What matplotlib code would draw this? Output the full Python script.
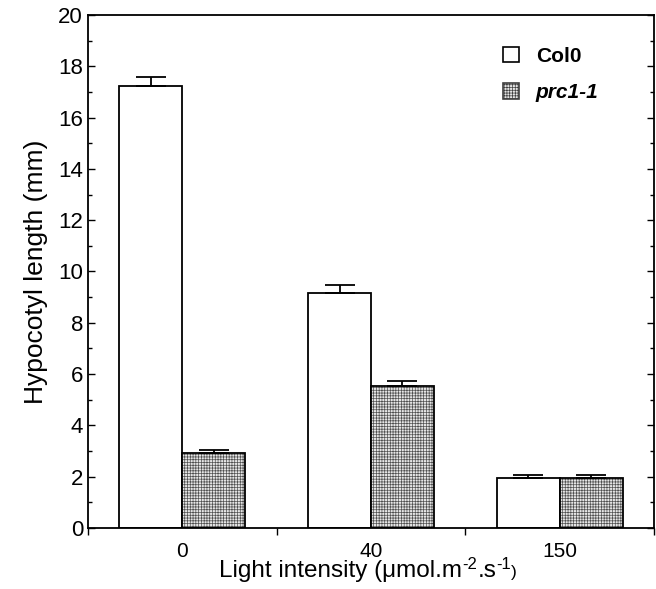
import numpy as np
import matplotlib
matplotlib.use("Agg")
import matplotlib.pyplot as plt
from matplotlib.patches import Patch
from matplotlib.ticker import MultipleLocator, FixedLocator

plt.rcParams['font.family'] = ['Liberation Sans', 'DejaVu Sans']
plt.rcParams['hatch.linewidth'] = 0.5

# data
intensities = ['0', '40', '150']
col0 = [17.25, 9.15, 1.94]
col0_err = [0.33, 0.34, 0.13]
prc = [2.94, 5.55, 1.94]
prc_err = [0.11, 0.18, 0.13]

W, H = 656, 589
fig = plt.figure(figsize=(W / 100, H / 100), dpi=100)
ax = fig.add_axes([0.134, 0.1036, 0.863, 0.871])

x = np.arange(len(intensities))
w = 0.333

ax.bar(x - w/2, col0, w, color='white', edgecolor='black', linewidth=1.3)
ax.errorbar(x - w/2, col0, yerr=[np.zeros(3), col0_err], fmt='none',
            ecolor='black', elinewidth=1.3, capsize=11, capthick=1.3)

# hatched fill in gray, outline in black
ax.bar(x + w/2, prc, w, color='#e6e6e6', edgecolor='#505050', linewidth=0,
       hatch='++++++')
ax.bar(x + w/2, prc, w, fill=False, edgecolor='black', linewidth=1.3)
ax.errorbar(x + w/2, prc, yerr=[np.zeros(3), prc_err], fmt='none',
            ecolor='black', elinewidth=1.3, capsize=11, capthick=1.3)

ax.set_xlim(-0.5, 2.5)
ax.set_ylim(0, 20)
ax.yaxis.set_major_locator(MultipleLocator(2))
ax.yaxis.set_minor_locator(MultipleLocator(1))
ax.tick_params(axis='y', which='both', direction='in', right=True,
               labelsize=16)
ax.tick_params(axis='y', which='major', length=5, width=1)
ax.tick_params(axis='y', which='minor', length=3, width=1)

ax.set_xticks(x)
ax.set_xticklabels(intensities)
ax.xaxis.set_minor_locator(FixedLocator([-0.5, 0.5, 1.5, 2.5]))
ax.tick_params(axis='x', which='major', length=0, labelsize=15, pad=10)
ax.tick_params(axis='x', which='minor', direction='out', length=5, width=1)

for s in ax.spines.values():
    s.set_linewidth(1.3)

ax.set_ylabel('Hypocotyl length (mm)', fontsize=19, labelpad=7)

# x label built from pieces so the superscripts stay small and low
pieces = [('Light intensity (μmol.m', 17.5, 0), ('-2', 12, 8), ('.s', 17.5, 0),
          ('-1', 12, 8), (')', 12.5, 0)]
renderer = fig.canvas.get_renderer()
objs = []
for txt, size, rise in pieces:
    t = fig.text(0, 0, txt, fontsize=size, ha='left', va='baseline')
    objs.append((t, rise))
widths = [t.get_window_extent(renderer).width for t, _ in objs]
xpos = 368 - sum(widths) / 2
base = 12
for (t, rise), wd in zip(objs, widths):
    t.set_position((xpos / W, (base + rise) / H))
    xpos += wd

handles = [Patch(facecolor='white', edgecolor='black', linewidth=1.2),
           Patch(facecolor='#e6e6e6', edgecolor='#404040', linewidth=1.2, hatch='++++++')]
leg = ax.legend(handles, ['Col0', 'prc1-1'], loc='upper right',
                bbox_to_anchor=(0.935, 0.975), frameon=False, fontsize=15,
                handlelength=0.75, handleheight=0.75, handletextpad=0.8,
                labelspacing=0.85)
texts = leg.get_texts()
texts[0].set_fontweight('bold')
texts[1].set_fontweight('bold')
texts[1].set_fontstyle('italic')

fig.savefig('out.png', dpi=100)
